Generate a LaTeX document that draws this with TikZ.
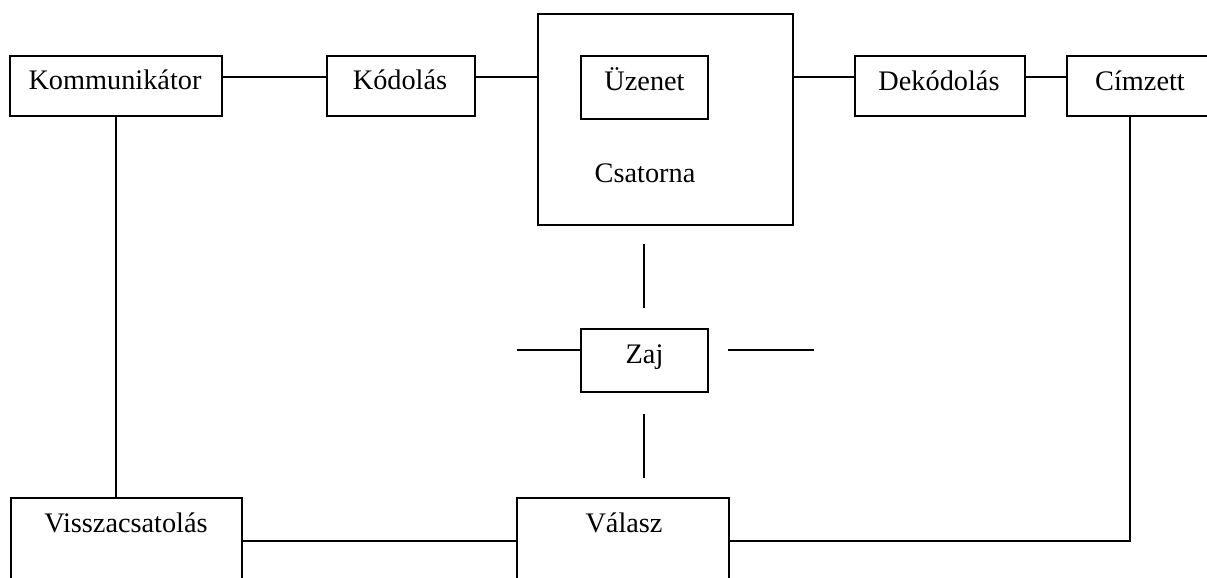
\documentclass[tikz,border=0pt]{standalone}
\usepackage{fontspec}
\setmainfont{Liberation Serif}
\begin{document}
\begin{tikzpicture}[x=1pt,y=-1pt,
  box/.style={draw, line width=1.3pt, inner sep=0pt},
  lab/.style={anchor=base, inner sep=0pt, font=\fontsize{28.3}{33}\selectfont},
  conn/.style={line width=1.3pt}]
\clip (0,0) rectangle (1207,578);
\fill[white] (0,0) rectangle (1207,578);
% boxes
\node[box, minimum width=212pt, minimum height=60pt] (komm) at (116,86) {};
\node[box, minimum width=148pt, minimum height=60pt] (kod) at (401,86) {};
\node[box, minimum width=255pt, minimum height=211pt] (csat) at (665.5,119.5) {};
\node[box, minimum width=127pt, minimum height=63pt] (uz) at (644.5,87.5) {};
\node[box, minimum width=170pt, minimum height=60pt] (dek) at (940,86) {};
\node[box, minimum width=146pt, minimum height=60pt] (cim) at (1140,86) {};
\node[box, minimum width=127pt, minimum height=63pt] (zaj) at (644.5,360.5) {};
\node[box, minimum width=231pt, minimum height=120pt] (vissz) at (126.5,558) {};
\node[box, minimum width=212pt, minimum height=120pt] (val) at (623,558) {};
% texts
\node[lab] (tkomm) at (115,89.5) {Kommunikátor};
\node[lab] (tkod) at (400,89.5) {Kódolás};
\node[lab] (tuz) at (644.5,90) {Üzenet};
\node[lab] (tcsat) at (645,182) {Csatorna};
\node[lab] (tdek) at (939,90) {Dekódolás};
\node[lab] (tcim) at (1140,90) {Címzett};
\node[lab] (tzaj) at (644.5,363) {Zaj};
\node[lab] (tvissz) at (126,532) {Visszacsatolás};
\node[lab] (tval) at (624,532) {Válasz};
% connectors
\draw[conn] ([yshift=9pt]komm.east) -- ([yshift=9pt]kod.west);
\draw[conn] ([yshift=9pt]kod.east) -- ([yshift=9pt]kod.east -| csat.west);
\draw[conn] ([yshift=9pt]dek.west -| csat.east) -- ([yshift=9pt]dek.west);
\draw[conn] ([yshift=9pt]dek.east) -- ([yshift=9pt]cim.west);
\draw[conn] (komm.south) -- (komm.south |- vissz.north);
\draw[conn] ([yshift=17pt]vissz.east) -- ([yshift=17pt]val.west);
\draw[conn] ([yshift=17pt]val.east) -| ([xshift=-10pt]cim.south);
% noise stubs
\coordinate (zl) at (517,350);
\coordinate (zr1) at (728,350);
\coordinate (zr2) at (814,350);
\coordinate (zt1) at (644,244);
\coordinate (zt2) at (644,308);
\coordinate (zb1) at (644,414);
\coordinate (zb2) at (644,478);
\draw[conn] (zl) -- (zl -| zaj.west);
\draw[conn] (zr1) -- (zr2);
\draw[conn] (zt1) -- (zt2);
\draw[conn] (zb1) -- (zb2);
\end{tikzpicture}
\end{document}
